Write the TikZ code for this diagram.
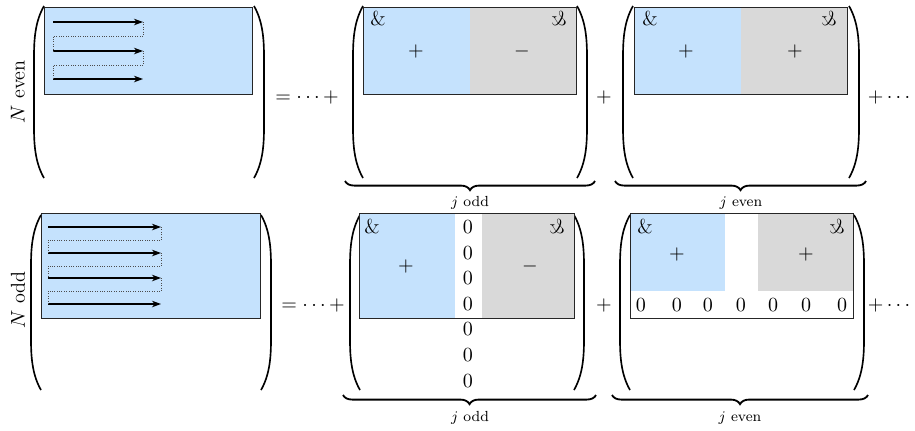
\documentclass[tikz,border=0pt]{standalone}
\usepackage{graphicx}
\usetikzlibrary{arrows.meta,decorations.pathreplacing}
\definecolor{lblue}{HTML}{C5E2FD}
\definecolor{lgray}{HTML}{D9D9D9}
\tikzset{
  mbox/.style={draw=black!85, line width=0.5pt},
  parenline/.style={line width=0.9pt},
  brc/.style={decorate, decoration={brace, mirror, amplitude=5pt}, line width=1pt},
  sweep/.style={-{Stealth[length=5pt,width=3.6pt]}, line width=0.6pt},
  back/.style={draw=black!70, dash pattern=on 0.4pt off 0.9pt, line width=0.45pt},
  lbl/.style={inner sep=1pt, font=\fontsize{11}{13}\selectfont},
  sml/.style={inner sep=1pt, font=\footnotesize},
}
\newcommand\LPar[3]{\draw[parenline] ({#1+10},#2) .. controls ({#1+2},{#2+14}) and (#1,{#2+30}) .. (#1,{#2+50}) -- (#1,{#3-50}) .. controls (#1,{#3-30}) and ({#1+2},{#3-14}) .. ({#1+10},#3);}
\newcommand\RPar[3]{\draw[parenline] ({#1-10},#2) .. controls ({#1-2},{#2+14}) and (#1,{#2+30}) .. (#1,{#2+50}) -- (#1,{#3-50}) .. controls (#1,{#3-30}) and ({#1-2},{#3-14}) .. ({#1-10},#3);}
\newcommand\amp{\&}
\newcommand\pma{\reflectbox{\&}}
\begin{document}
\begin{tikzpicture}[x=0.5464pt,y=-0.5464pt]
\useasboundingbox (0,0) rectangle (915,430);
% ================= Row 1 =================
\node[lbl, rotate=90] (neven) at (18,92) {$N$ even};
\LPar{34}{6}{178}
\RPar{264}{6}{178}
\fill[lblue] (44,7) rectangle (252,94);
\draw[mbox] (44,7) rectangle (252,94);
\coordinate (a1s) at (53,22); \coordinate (a1e) at (143,22);
\coordinate (a2s) at (53,51); \coordinate (a2e) at (143,51);
\coordinate (a3s) at (53,79); \coordinate (a3e) at (143,79);
\draw[sweep] (a1s) -- (a1e);
\draw[sweep] (a2s) -- (a2e);
\draw[sweep] (a3s) -- (a3e);
\draw[back] (a1e) -- (143,36) -- (53,36) -- (a2s);
\draw[back] (a2e) -- (143,65) -- (53,65) -- (a3s);
\node[lbl] (eq1) at (307,97) {$=\cdots+$};
% matrix j odd
\LPar{353}{6}{178}
\RPar{587}{6}{178}
\fill[lblue] (363,7) rectangle (470,94);
\fill[lgray] (470,7) rectangle (576,94);
\draw[mbox] (363,7) rectangle (576,94);
\node[lbl] (o1a) at (378,19) {\amp};
\node[lbl] (o1b) at (559,19) {\pma};
\node[lbl] (o1p) at (416,51) {$+$};
\node[lbl] (o1m) at (522,51) {$-$};
\node[lbl] (pl1) at (604,97) {$+$};
% matrix j even
\LPar{623}{6}{178}
\RPar{859}{6}{178}
\fill[lblue] (634,7) rectangle (741,94);
\fill[lgray] (741,7) rectangle (847,94);
\draw[mbox] (634,7) rectangle (847,94);
\node[lbl] (e1a) at (650,19) {\amp};
\node[lbl] (e1b) at (829,19) {\pma};
\node[lbl] (e1p) at (686,51) {$+$};
\node[lbl] (e1q) at (795,51) {$+$};
\node[lbl] (dots1) at (889,97) {$+\cdots$};
% braces
\draw[brc] (345,181) -- (595,181);
\node[sml] (jo1) at (470,203) {$j$ odd};
\draw[brc] (615,181) -- (866,181);
\node[sml] (je1) at (741,203) {$j$ even};
% ================= Row 2 =================
\node[lbl, rotate=90] (nodd) at (18,300) {$N$ odd};
\LPar{31}{215}{390}
\RPar{271}{215}{390}
\fill[lblue] (41,213) rectangle (260,318);
\draw[mbox] (41,213) rectangle (260,318);
\coordinate (b1s) at (48,227); \coordinate (b1e) at (161,227);
\coordinate (b2s) at (48,253); \coordinate (b2e) at (161,253);
\coordinate (b3s) at (48,278); \coordinate (b3e) at (161,278);
\coordinate (b4s) at (48,304); \coordinate (b4e) at (161,304);
\draw[sweep] (b1s) -- (b1e);
\draw[sweep] (b2s) -- (b2e);
\draw[sweep] (b3s) -- (b3e);
\draw[sweep] (b4s) -- (b4e);
\draw[back] (b1e) -- (161,240) -- (48,240) -- (b2s);
\draw[back] (b2e) -- (161,266) -- (48,266) -- (b3s);
\draw[back] (b3e) -- (161,291) -- (48,291) -- (b4s);
\node[lbl] (eq2) at (313,305) {$=\cdots+$};
% matrix j odd
\LPar{350}{215}{390}
\RPar{584}{215}{390}
\fill[lblue] (359,213) rectangle (455,318);
\fill[lgray] (482,213) rectangle (574,318);
\draw[mbox] (359,213) rectangle (574,318);
\node[lbl] (o2a) at (372,227) {\amp};
\node[lbl] (o2b) at (557,227) {\pma};
\node[lbl] (o2p) at (406,266) {$+$};
\node[lbl] (o2m) at (530,266) {$-$};
\foreach \yy [count=\k] in {227,253,278,304,329,355,381}
  \node[lbl] (oz\k) at (468,\yy) {$0$};
\node[lbl] (pl2) at (604,305) {$+$};
% matrix j even
\LPar{620}{215}{390}
\RPar{864}{215}{390}
\fill[lblue] (630,213) rectangle (725,291);
\fill[lgray] (758,213) rectangle (853,291);
\draw[mbox] (630,213) rectangle (853,318);
\node[lbl] (e2a) at (645,227) {\amp};
\node[lbl] (e2b) at (837,227) {\pma};
\node[lbl] (e2p) at (677,254) {$+$};
\node[lbl] (e2q) at (806,254) {$+$};
\foreach \xx [count=\k] in {641,677,708,741,773,806,842}
  \node[lbl] (ez\k) at (\xx,305) {$0$};
\node[lbl] (dots2) at (889,305) {$+\cdots$};
% braces
\draw[brc] (343,395) -- (596,395);
\node[sml] (jo2) at (470,418) {$j$ odd};
\draw[brc] (612,395) -- (868,395);
\node[sml] (je2) at (740,418) {$j$ even};
\end{tikzpicture}
\end{document}
